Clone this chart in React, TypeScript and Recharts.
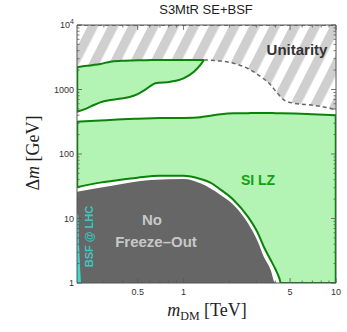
import React from "react";
import { Area, ComposedChart, Line, ReferenceArea, XAxis, YAxis } from "recharts";

// chart box and frame (pixels)
const W = 347;
const H = 332;
const PLOT = { left: 77, right: 336, top: 25, bottom: 283 };
const SANS = "'Liberation Sans', Arial, sans-serif";
const SERIF = "'Liberation Serif', 'Times New Roman', serif";
const FRAME = "#555";
const GREEN = "#0c820c";
const GREEN_FILL = "#b3f3b3";

// upper SI LZ island (mDM in TeV, Δm in GeV)
const islandMass = [0.2, 0.232, 0.256, 0.284, 0.331, 0.39, 0.448, 0.5, 0.548, 0.622, 0.654, 0.821, 1.0, 1.17, 1.29, 1.36];
const islandUpper = [2210, 2330, 2400, 2490, 2700, 2780, 2820, 2840, 2850, 2860, 2860, 2870, 2870, 2870, 2870, 2866];
const islandLower = [451, 511, 570, 632, 687, 725, 773, 850, 958, 1175, 1248, 1321, 1492, 1888, 2399, 2866];

// unitarity bound (dashed)
const unitarityMass = [1.36, 1.43, 1.75, 2.13, 2.62, 3.21, 3.73, 4.13, 4.57, 5.32, 6.85, 8.81, 10];
const unitarityDm = [2866, 2860, 2768, 2547, 2133, 1578, 1175, 873, 687, 611, 575, 522, 481];

// main SI LZ band
const lzMass = [0.2, 0.283, 0.346, 0.5, 0.7, 1.0, 1.29, 1.5, 1.75, 2.13, 2.64, 3.07, 3.36, 3.73, 4.03, 4.24, 4.35, 5.89, 10];
const lzUpper = [317, 330, 340, 352, 360, 363, 372, 393, 412, 427, 430, 432, 432, 431, 430, 430, 429, 420, 400];
const lzLower = [30.5, 36, 38.5, 43, 46, 46, 41, 36, 28, 19.4, 10.7, 5.96, 3.65, 2.27, 1.59, 1.2, 1, 1, 1];

// no freeze-out region
const noFoMass = [0.2, 0.331, 0.607, 1.0, 1.29, 1.75, 2.13, 2.64, 3.07, 3.36, 3.73, 3.94, 4.09];
const noFoUpper = [26, 31.9, 39.5, 41, 35.1, 23.1, 16.2, 8.5, 4.37, 2.56, 1.59, 1.05, 1];

// BSF @ LHC sliver
const lhcMass = [0.2, 0.204, 0.207, 0.21, 0.2125];
const lhcUpper = [12, 11, 3.4, 1.6, 1];

// ticks
const xTicks = [0.3, 0.4, 0.5, 0.6, 0.7, 0.8, 0.9, 1, 2, 3, 4, 5, 6, 7, 8, 9, 10];
const xLabels = [0.5, 1, 5, 10];
const yTicks = [
  1, 2, 3, 4, 5, 6, 7, 8, 9, 10, 20, 30, 40, 50, 60, 70, 80, 90, 100, 200, 300, 400, 500, 600, 700, 800, 900,
  1000, 2000, 3000, 4000, 5000, 6000, 7000, 8000, 9000, 10000,
];
const yLabels = [1, 10, 100, 1000, 10000];

const range = (xs: number[], lo: number[] | number, hi: number[] | number) =>
  xs.map((m, i) => ({
    m,
    r: [typeof lo === "number" ? lo : lo[i], typeof hi === "number" ? hi : hi[i]],
  }));
const pts = (xs: number[], ys: number[]) => xs.map((m, i) => ({ m, v: ys[i] }));

const islandData = range(islandMass, islandLower, islandUpper);
const hatchData = [...range(islandMass, islandUpper, 10000), ...range(unitarityMass.slice(1), unitarityDm.slice(1), 10000)];
const lzData = range(lzMass, lzLower, lzUpper);
const noFoData = range(noFoMass, 1, noFoUpper);
const lhcData = range(lhcMass, 1, lhcUpper);

const XTick = (props: any) => {
  const { x, payload } = props;
  const v = payload.value;
  const major = xLabels.includes(v);
  const len = major ? 5 : 2.5;
  return (
    <g>
      <line x1={x} x2={x} y1={PLOT.bottom} y2={PLOT.bottom - len} stroke={FRAME} strokeWidth={0.8} />
      <line x1={x} x2={x} y1={PLOT.top} y2={PLOT.top + len} stroke={FRAME} strokeWidth={0.8} />
      {major && (
        <text x={x} y={PLOT.bottom + 12} textAnchor="middle" fontSize={9} fontFamily={SANS} fill="#333">
          {String(v)}
        </text>
      )}
    </g>
  );
};

const YTick = (props: any) => {
  const { y, payload } = props;
  const v = payload.value;
  const major = yLabels.includes(v);
  const len = major ? 5 : 2.5;
  return (
    <g>
      <line x1={PLOT.left} x2={PLOT.left + len} y1={y} y2={y} stroke={FRAME} strokeWidth={0.8} />
      <line x1={PLOT.right} x2={PLOT.right - len} y1={y} y2={y} stroke={FRAME} strokeWidth={0.8} />
      {major && (
        <text x={PLOT.left - 3} y={y + 3} textAnchor="end" fontSize={9} fontFamily={SANS} fill="#333">
          {v === 10000 ? (
            <>
              10
              <tspan dy={-4} fontSize={7}>
                4
              </tspan>
            </>
          ) : (
            String(v)
          )}
        </text>
      )}
    </g>
  );
};

export default function App() {
  return (
    <div style={{ position: "absolute", left: 0, top: 0, width: W, height: H, background: "#fff" }}>
      <svg width={0} height={0} style={{ position: "absolute" }}>
        <defs>
          <pattern id="hatch" patternUnits="userSpaceOnUse" width={18} height={18} patternTransform="rotate(27)">
            <rect x={0} y={0} width={18} height={18} fill="#fff" />
            <rect x={0} y={0} width={9.5} height={18} fill="#cfcfcf" />
          </pattern>
        </defs>
      </svg>
      <ComposedChart width={W} height={H} margin={{ top: PLOT.top, right: W - PLOT.right, bottom: H - PLOT.bottom - 20, left: PLOT.left - 30 }}>
        <Area data={hatchData} dataKey="r" type="monotone" fill="url(#hatch)" fillOpacity={1} stroke="none" isAnimationActive={false} />
        <Area data={islandData} dataKey="r" type="monotone" fill={GREEN_FILL} fillOpacity={1} stroke={GREEN} strokeWidth={2} isAnimationActive={false} />
        <Line
          data={pts([0.2, 0.2], [islandLower[0], islandUpper[0]])}
          dataKey="v"
          stroke={GREEN}
          strokeWidth={2.5}
          dot={false}
          isAnimationActive={false}
        />
        <Line
          data={pts(unitarityMass, unitarityDm)}
          dataKey="v"
          type="monotone"
          stroke="#666"
          strokeWidth={1.5}
          strokeDasharray="4 3"
          dot={false}
          isAnimationActive={false}
        />
        <Line
          data={pts([0.2, 10], [10000, 10000])}
          dataKey="v"
          stroke="#666"
          strokeWidth={2}
          strokeDasharray="4 3"
          dot={false}
          isAnimationActive={false}
        />
        <Area data={lzData} dataKey="r" type="monotone" fill={GREEN_FILL} fillOpacity={1} stroke={GREEN} strokeWidth={2} isAnimationActive={false} />
        <Line
          data={pts([0.2, 0.2], [lzLower[0], lzUpper[0]])}
          dataKey="v"
          stroke={GREEN}
          strokeWidth={2.5}
          dot={false}
          isAnimationActive={false}
        />
        <Line
          data={pts([10, 10], [1, lzUpper[lzUpper.length - 1]])}
          dataKey="v"
          stroke={GREEN}
          strokeWidth={2.5}
          dot={false}
          isAnimationActive={false}
        />
        <Area data={noFoData} dataKey="r" type="monotone" fill="#666666" fillOpacity={1} stroke="none" isAnimationActive={false} />
        <Area data={lhcData} dataKey="r" type="monotone" fill="#3fd9cc" fillOpacity={1} stroke="none" isAnimationActive={false} />
        <ReferenceArea x1={0.2} x2={10} y1={1} y2={10000} fill="none" stroke={FRAME} strokeWidth={1} ifOverflow="visible" />
        <XAxis
          dataKey="m"
          type="number"
          scale="log"
          domain={[0.2, 10]}
          allowDataOverflow
          ticks={xTicks}
          interval={0}
          tick={XTick}
          tickLine={false}
          axisLine={false}
          height={20}
        />
        <YAxis
          type="number"
          scale="log"
          domain={[1, 10000]}
          allowDataOverflow
          ticks={yTicks}
          interval={0}
          tick={YTick}
          tickLine={false}
          axisLine={false}
          width={30}
        />
      </ComposedChart>
      <svg width={W} height={H} style={{ position: "absolute", left: 0, top: 0, pointerEvents: "none" }}>
        <text x={206} y={14} textAnchor="middle" fontFamily={SANS} fontSize={13} fill="#222">
          S3MtR SE+BSF
        </text>
        <text x={297} y={55} textAnchor="middle" fontFamily={SANS} fontSize={15} fontWeight="bold" fill="#333">
          Unitarity
        </text>
        <text x={258} y={185} textAnchor="middle" fontFamily={SANS} fontSize={14} fontWeight="bold" fill="#11a011">
          SI LZ
        </text>
        <text x={152} y={225} textAnchor="middle" fontFamily={SANS} fontSize={15} fontWeight="bold" fill="#c8c8c8">
          No
        </text>
        <text x={156} y={246.5} textAnchor="middle" fontFamily={SANS} fontSize={15} fontWeight="bold" fill="#c8c8c8">
          Freeze–Out
        </text>
        <text
          x={0}
          y={0}
          transform="translate(93 236.5) rotate(-90)"
          textAnchor="middle"
          fontFamily={SANS}
          fontSize={11}
          fontWeight="bold"
          fill="#3cc8c0"
        >
          BSF @ LHC
        </text>
        <text x={0} y={0} transform="translate(39 153) rotate(-90)" textAnchor="middle" fontFamily={SERIF} fontSize={18} fill="#222">
          Δ<tspan fontStyle="italic">m</tspan> [GeV]
        </text>
        <text x={207} y={316} textAnchor="middle" fontFamily={SERIF} fontSize={18} fill="#222">
          <tspan fontStyle="italic">m</tspan>
          <tspan fontSize={12} dy={4}>
            DM
          </tspan>
          <tspan dy={-4}> [TeV]</tspan>
        </text>
      </svg>
    </div>
  );
}
